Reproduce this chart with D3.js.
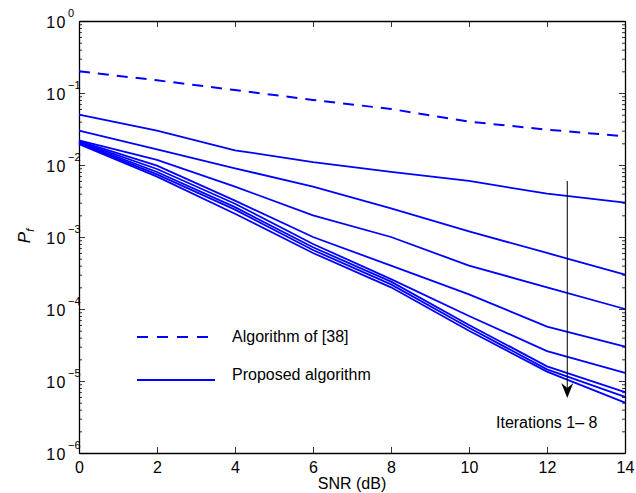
<!DOCTYPE html>
<html>
<head>
<meta charset="utf-8">
<script src="https://cdn.jsdelivr.net/npm/d3@7"></script>
<style>
  body { margin: 0; background: #fff; }
  svg { display: block; font-family: "Liberation Sans", Arial, Helvetica, sans-serif; }
</style>
</head>
<body>
<svg id="chart" width="636" height="493"></svg>
<script>
// SNR (dB) on the x axis
var snr = [0, 2, 4, 6, 8, 10, 12, 14];

// Algorithm of [38] (dashed)
var ref38 = [0.2, 0.15, 0.11, 0.08, 0.06, 0.04, 0.031, 0.025];

// proposed algorithm, iterations 1 - 8
var iter1 = [0.05, 0.03, 0.016, 0.011, 0.008, 0.006, 0.004, 0.003];
var iter2 = [0.03, 0.0165, 0.009, 0.005, 0.0025, 0.0012, 0.0006, 0.0003];
var iter3 = [0.022, 0.0118, 0.005, 0.002, 0.001, 0.0004, 0.0002, 0.0001];
var iter4 = [0.0215, 0.0098, 0.0032, 0.001, 0.0004, 0.00016, 0.000057, 0.00003];
var iter5 = [0.021, 0.0088, 0.0029, 0.0008, 0.00026, 0.00008, 0.000026, 0.000013];
var iter6 = [0.0205, 0.008, 0.0026, 0.00072, 0.00024, 0.00006, 0.000016, 0.000007];
var iter7 = [0.02, 0.0074, 0.0024, 0.00066, 0.00022, 0.000055, 0.0000145, 0.000006];
var iter8 = [0.0195, 0.0069, 0.0021, 0.0006, 0.0002, 0.00005, 0.0000135, 0.000005];

var xTicks = [0, 2, 4, 6, 8, 10, 12, 14];
var yExps = [0, -1, -2, -3, -4, -5, -6];

// annotation arrow (data coords)
var arrowX = 12.52, arrowTop = 0.006, arrowTip = 5.8e-6;

(function(){
    var svg = d3.select('#chart'),
        left = 79, right = 625, top = 21, bottom = 453,
        blue = '#0000ff';

    var x = d3.scaleLinear().domain([0, 14]).range([left, right]);
    var y = d3.scaleLog().domain([1e-6, 1]).range([bottom, top]);

    var majors = yExps.map(function(e) { return Math.pow(10, e); });
    var minors = [];
    yExps.slice(1).forEach(function(e) {
        for (var k = 2; k <= 9; k++) minors.push(k * Math.pow(10, e));
    });

    // minor ticks, left and right
    svg.append('g')
        .attr('transform', 'translate(' + left + ',0)')
        .call(d3.axisLeft(y).tickValues(minors).tickSize(-3).tickFormat(''))
        .call(function(g) { g.select('.domain').remove(); });
    svg.append('g')
        .attr('transform', 'translate(' + right + ',0)')
        .call(d3.axisRight(y).tickValues(minors).tickSize(-3).tickFormat(''))
        .call(function(g) { g.select('.domain').remove(); });

    // major y ticks
    svg.append('g')
        .attr('transform', 'translate(' + left + ',0)')
        .call(d3.axisLeft(y).tickValues(majors).tickSize(-6).tickSizeOuter(0).tickFormat(''));
    svg.append('g')
        .attr('transform', 'translate(' + right + ',0)')
        .call(d3.axisRight(y).tickValues(majors).tickSize(-6).tickSizeOuter(0).tickFormat(''));

    // x axes
    var xb = svg.append('g')
        .attr('transform', 'translate(0,' + bottom + ')')
        .call(d3.axisBottom(x).tickValues(xTicks).tickSize(-6).tickSizeOuter(0).tickPadding(9));
    svg.append('g')
        .attr('transform', 'translate(0,' + top + ')')
        .call(d3.axisTop(x).tickValues(xTicks).tickSize(-6).tickSizeOuter(0).tickFormat(''));

    svg.selectAll('.domain').attr('stroke', '#000').attr('stroke-width', 1.3);
    svg.selectAll('.tick line').attr('stroke', '#000').attr('stroke-width', 0.8);
    xb.selectAll('text')
        .attr('font-size', 16)
        .attr('fill', '#000')
        .attr('font-family', '"Liberation Sans", Arial, sans-serif');

    // y tick labels 10^e
    var ylab = svg.append('g').selectAll('g')
        .data(yExps)
        .enter().append('g');
    ylab.append('text')
        .attr('x', 67)
        .attr('y', function(d) { return y(Math.pow(10, d)) + 7; })
        .attr('text-anchor', 'end')
        .attr('font-size', 16)
        .attr('letter-spacing', 1.5)
        .text('10');
    ylab.append('text')
        .attr('x', 68)
        .attr('y', function(d) { return y(Math.pow(10, d)) - 4; })
        .attr('font-size', 11)
        .text(function(d) { return d === 0 ? '0' : '\u2212' + (-d); });

    // axis titles
    svg.append('text')
        .attr('x', (left + right) / 2)
        .attr('y', 489)
        .attr('text-anchor', 'middle')
        .attr('font-size', 16)
        .text('SNR (dB)');

    var yt = svg.append('text')
        .attr('transform', 'translate(30,236) rotate(-90)')
        .attr('text-anchor', 'middle')
        .attr('font-size', 17)
        .attr('font-style', 'italic');
    yt.append('tspan').text('P');
    yt.append('tspan').attr('font-size', 11).attr('dy', 4).text('f');

    // curves
    var line = d3.line()
        .x(function(d, i) { return x(snr[i]); })
        .y(function(d) { return y(d); });

    svg.append('path')
        .attr('d', line(ref38))
        .attr('fill', 'none')
        .attr('stroke', blue)
        .attr('stroke-width', 2)
        .attr('stroke-dasharray', '11,8');

    var iters = [iter1, iter2, iter3, iter4, iter5, iter6, iter7, iter8];
    svg.append('g').selectAll('path')
        .data(iters)
        .enter().append('path')
        .attr('d', line)
        .attr('fill', 'none')
        .attr('stroke', blue)
        .attr('stroke-width', 1.8);

    // arrow
    var ax = x(arrowX), ay0 = y(arrowTop), ay1 = y(arrowTip);
    svg.append('line')
        .attr('x1', ax).attr('x2', ax)
        .attr('y1', ay0).attr('y2', ay1 - 8)
        .attr('stroke', '#000')
        .attr('stroke-width', 1);
    svg.append('path')
        .attr('d', 'M' + ax + ',' + ay1 + 'L' + (ax - 6) + ',' + (ay1 - 15) +
            'L' + ax + ',' + (ay1 - 10) + 'L' + (ax + 6) + ',' + (ay1 - 15) + 'Z')
        .attr('fill', '#000');

    svg.append('text')
        .attr('x', 496)
        .attr('y', 428)
        .attr('font-size', 16)
        .text('Iterations 1\u2013 8');

    // legend
    var legend = svg.append('g');
    legend.append('line')
        .attr('x1', 137).attr('x2', 208)
        .attr('y1', 337).attr('y2', 337)
        .attr('stroke', blue).attr('stroke-width', 2)
        .attr('stroke-dasharray', '11,9');
    legend.append('line')
        .attr('x1', 137).attr('x2', 215)
        .attr('y1', 380).attr('y2', 380)
        .attr('stroke', blue).attr('stroke-width', 2);
    legend.append('text')
        .attr('x', 232).attr('y', 342)
        .attr('font-size', 16)
        .text('Algorithm of [38]');
    legend.append('text')
        .attr('x', 232).attr('y', 380)
        .attr('font-size', 16)
        .text('Proposed algorithm');
})();
</script>
</body>
</html>
